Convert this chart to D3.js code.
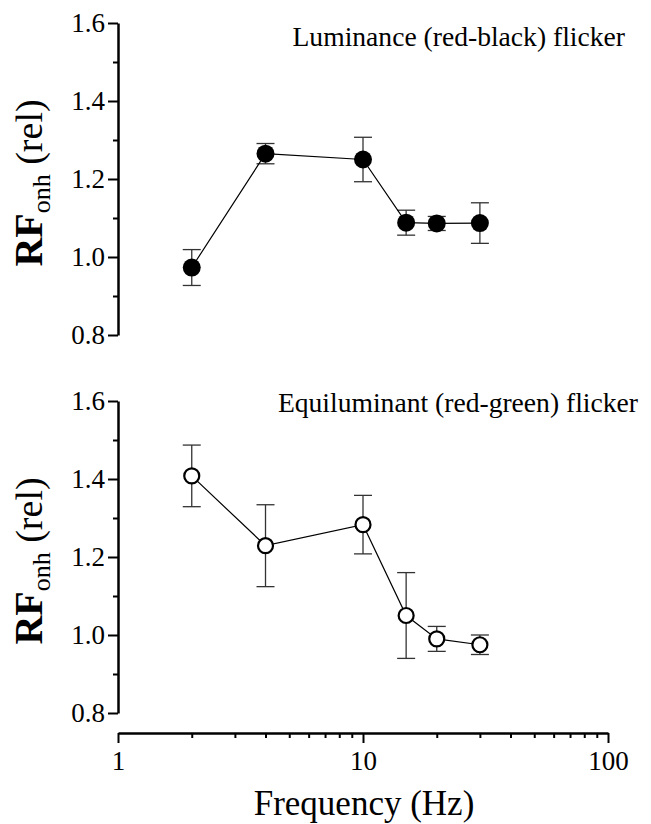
<!DOCTYPE html>
<html>
<head>
<meta charset="utf-8">
<style>
  body { margin: 0; background: #fff; }
  svg { display: block; }
  svg text { font-family: "Liberation Serif", "Times New Roman", Times, "DejaVu Serif", serif !important; fill: #000; }
</style>
</head>
<body>
<div id="chart"></div>
<script src="https://cdn.jsdelivr.net/npm/d3@7"></script>
<script>

// ---- data ----
var freq = [2, 4, 10, 15, 20, 30];

// luminance (red-black) flicker, filled circles
var lumMean = [0.973, 1.265, 1.250, 1.088, 1.086, 1.087];
var lumErr  = [0.046, 0.026, 0.057, 0.032, 0.018, 0.052];

// equiluminant (red-green) flicker, open circles
var eqMean = [1.408, 1.229, 1.283, 1.050, 0.990, 0.975];
var eqErr  = [0.079, 0.105, 0.075, 0.110, 0.032, 0.025];

var yMajor = [0.8, 1.0, 1.2, 1.4, 1.6];
var yMinor = [0.9, 1.1, 1.3, 1.5];
var xMajor = [1, 10, 100];
var xMinor = [2, 3, 4, 5, 6, 7, 8, 9, 20, 30, 40, 50, 60, 70, 80, 90];

var panelTitles = ["Luminance (red-black) flicker", "Equiluminant (red-green) flicker"];

// ---- setup ----
var W = 651, H = 824;
var axisX = 118;

var svg = d3.select("#chart").append("svg")
  .attr("width", W)
  .attr("height", H);

var x = d3.scaleLog().domain([1, 100]).range([118, 608]);

// two stacked panels, each with its own y scale
var panels = [
  { top: 23,  bottom: 335, mean: lumMean, err: lumErr, filled: true,  title: panelTitles[0], titleX: 625, titleY: 46 },
  { top: 401, bottom: 713, mean: eqMean,  err: eqErr,  filled: false, title: panelTitles[1], titleX: 638, titleY: 412 }
];

panels.forEach(function(p) {
  var y = d3.scaleLinear().domain([0.8, 1.6]).range([p.bottom, p.top]);

  // minor ticks
  var minor = svg.append("g")
    .attr("transform", "translate(" + axisX + ",0)")
    .call(d3.axisLeft(y).tickValues(yMinor).tickSize(5).tickSizeOuter(0).tickFormat(""));
  minor.select(".domain").remove();

  // major ticks + labels
  var ya = svg.append("g")
    .attr("transform", "translate(" + axisX + ",0)")
    .call(d3.axisLeft(y).tickValues(yMajor).tickSize(10).tickSizeOuter(0).tickPadding(3)
      .tickFormat(d3.format(".1f")));
  ya.attr("font-family", null);
  ya.selectAll("text").style("font-size", "27px");
  ya.select(".domain").attr("stroke-width", 2.5);

  // y label: RF_onh (rel)
  var cy = (p.top + p.bottom) / 2 + 4;
  var lab = svg.append("text")
    .attr("transform", "translate(42," + cy + ") rotate(-90)")
    .attr("text-anchor", "middle");
  lab.append("tspan").style("font-weight", "bold").style("font-size", "40px").text("RF");
  lab.append("tspan").style("font-size", "26px").attr("dy", 8).text("onh");
  lab.append("tspan").style("font-size", "38px").attr("dy", -8).text("\u00a0(rel)");

  // panel title
  svg.append("text")
    .attr("x", p.titleX)
    .attr("y", p.titleY)
    .attr("text-anchor", "end")
    .style("font-size", "27.6px")
    .text(p.title);

  var pts = freq.map(function(f, i) { return { f: f, m: p.mean[i], e: p.err[i] }; });

  // error bars
  var eb = svg.append("g").attr("stroke", "#333").attr("stroke-width", 1.3);
  pts.forEach(function(d) {
    var cx = x(d.f);
    eb.append("line").attr("x1", cx).attr("x2", cx).attr("y1", y(d.m - d.e)).attr("y2", y(d.m + d.e));
    eb.append("line").attr("x1", cx - 9).attr("x2", cx + 9).attr("y1", y(d.m + d.e)).attr("y2", y(d.m + d.e));
    eb.append("line").attr("x1", cx - 9).attr("x2", cx + 9).attr("y1", y(d.m - d.e)).attr("y2", y(d.m - d.e));
  });

  // connecting line
  var line = d3.line()
    .x(function(d) { return x(d.f); })
    .y(function(d) { return y(d.m); });

  svg.append("path")
    .datum(pts)
    .attr("fill", "none")
    .attr("stroke", "#000")
    .attr("stroke-width", 1.2)
    .attr("d", line);

  // markers
  svg.append("g").selectAll("circle")
    .data(pts)
    .enter()
    .append("circle")
    .attr("cx", function(d) { return x(d.f); })
    .attr("cy", function(d) { return y(d.m); })
    .attr("r", p.filled ? 9 : 7.5)
    .attr("fill", p.filled ? "#000" : "#fff")
    .attr("stroke", "#000")
    .attr("stroke-width", p.filled ? 0 : 2.2);
});

// ---- x axis (shared, below the lower panel) ----
var xAxisY = 733;

var xm = svg.append("g")
  .attr("transform", "translate(0," + xAxisY + ")")
  .call(d3.axisBottom(x).tickValues(xMinor).tickSize(5).tickSizeOuter(0).tickFormat(""));
xm.select(".domain").remove();

var xa = svg.append("g")
  .attr("transform", "translate(0," + xAxisY + ")")
  .call(d3.axisBottom(x).tickValues(xMajor).tickSize(10).tickSizeOuter(0).tickPadding(8)
    .tickFormat(d3.format("d")));
xa.attr("font-family", null);
xa.select(".domain").attr("stroke-width", 2.5);
xa.selectAll("text").style("font-size", "27px");

svg.selectAll(".tick line").attr("stroke", "#000").attr("stroke-width", 2);

svg.append("text")
  .attr("x", 364)
  .attr("y", 815)
  .attr("text-anchor", "middle")
  .style("font-size", "35px")
  .text("Frequency (Hz)");

</script>
</body>
</html>
